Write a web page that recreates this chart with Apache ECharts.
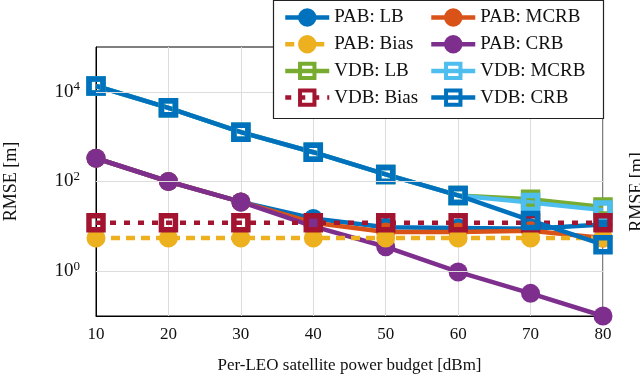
<!DOCTYPE html>
<html>
<head>
<meta charset="utf-8">
<script src="https://cdn.jsdelivr.net/npm/echarts@6/dist/echarts.min.js"></script>
<style>
  html, body { margin: 0; padding: 0; background: #fff; }
  #chart { width: 640px; height: 382px; }
</style>
</head>
<body>
<div id="chart"></div>
<script>
// x values: per-LEO satellite power budget [dBm]
const powerBudget = [10, 20, 30, 40, 50, 60, 70, 80];

// RMSE [m]
const pabLB = [330, 100, 35, 15, 9.5, 9.2, 8.8, 11];
const pabMCRB = [330, 100, 35, 12, 7.5, 7.5, 8, 5.5];
const pabBias = [5.5, 5.5, 5.5, 5.5, 5.5, 5.5, 5.5, 5.5];
const pabCRB = [330, 100, 35, 10, 3.5, 0.96, 0.32, 0.1];
const vdbLB = [13500, 4400, 1260, 450, 144, 49, 40, 27];
const vdbMCRB = [13500, 4400, 1260, 450, 144, 49, 34, 23];
const vdbBias = [12, 12, 12, 12, 12, 12, 12, 12];
const vdbCRB = [13500, 4400, 1260, 450, 144, 49, 13.5, 3.9];

// labelled decades of the y axis (these also get grid lines)
const yGridValues = [1, 100, 10000];

// legend columns, as in the reference
const legendLeftCol = ['PAB: LB', 'PAB: Bias', 'VDB: LB', 'VDB: Bias'];
const legendRightCol = ['PAB: MCRB', 'PAB: CRB', 'VDB: MCRB', 'VDB: CRB'];

const FONT = 'Liberation Serif';

function pairs(values) {
    return powerBudget.map(function (x, i) {
        return [x, values[i]];
    });
}

function circleSeries(name, values, color, dash) {
    return {
        name: name,
        type: 'line',
        data: pairs(values),
        symbol: 'circle',
        symbolSize: 19,
        itemStyle: { color: color, borderColor: color, borderWidth: 0 },
        lineStyle: { color: color, width: 4.5, type: dash || 'solid' },
        emphasis: { disabled: true },
        z: 3
    };
}

function squareSeries(name, values, color, dash) {
    return {
        name: name,
        type: 'line',
        data: pairs(values),
        symbol: 'rect',
        symbolSize: 14,
        itemStyle: { color: 'rgba(255,255,255,0)', borderColor: color, borderWidth: 5.5 },
        lineStyle: { color: color, width: 4.5, type: dash || 'solid' },
        emphasis: { disabled: true },
        z: 3
    };
}

function legendColumn(names, left) {
    return {
        data: names,
        orient: 'vertical',
        left: left, top: 8,
        padding: 0,
        itemWidth: 44, itemHeight: 18, itemGap: 7.7,
        z: 20,
        lineStyle: { width: 4.5 },
        itemStyle: { borderWidth: 4 },
        textStyle: { fontFamily: FONT, fontSize: 19, color: '#111' }
    };
}

const chart = echarts.init(document.getElementById('chart'), null, { renderer: 'canvas' });

const options = {
    animation: false,
    backgroundColor: '#fff',
    textStyle: { fontFamily: FONT },
    grid: {
        left: 96, right: 37, top: 47, bottom: 66,
        outerBoundsMode: 'none',
        containLabel: false,
        show: true, borderColor: '#000', borderWidth: 1
    },
    legend: [
        legendColumn(legendLeftCol, 283),
        legendColumn(legendRightCol, 429)
    ],
    xAxis: {
        type: 'value',
        min: 10, max: 80, interval: 10,
        name: 'Per-LEO satellite power budget [dBm]',
        nameLocation: 'middle', nameGap: 41,
        nameTextStyle: { fontFamily: FONT, fontSize: 17, color: '#111' },
        axisLine: { lineStyle: { color: '#000', width: 1 } },
        axisTick: { show: false },
        axisLabel: { fontFamily: FONT, fontSize: 17, color: '#111', margin: 10 },
        splitLine: { show: true, lineStyle: { color: '#dcdcdc', width: 1 } }
    },
    yAxis: {
        type: 'log', logBase: 10,
        min: 0.1, max: 100000, splitNumber: 6,
        name: 'RMSE [m]',
        nameLocation: 'middle', nameGap: 76,
        nameTextStyle: { fontFamily: FONT, fontSize: 18, color: '#111' },
        axisLine: { show: true, lineStyle: { color: '#000', width: 1 } },
        axisTick: { show: false },
        axisLabel: {
            margin: 16,
            formatter: function (value) {
                const e = Math.round(Math.log10(value));
                if (yGridValues.indexOf(Math.pow(10, e)) < 0) {
                    return '';
                }
                return '{b|10}{s|' + e + '}';
            },
            rich: {
                b: { fontFamily: FONT, fontSize: 19, color: '#111' },
                s: { fontFamily: FONT, fontSize: 13, color: '#111', padding: [0, 0, 10, 0] }
            }
        },
        splitLine: { show: false }
    },
    graphic: [{
        type: 'rect',
        z: 10,
        shape: { x: 273.5, y: 0.5, width: 330, height: 118 },
        style: { fill: '#fff', stroke: '#222', lineWidth: 1.2 }
    }, {
        type: 'text',
        x: 628, y: 192,
        rotation: Math.PI / 2,
        style: {
            text: 'RMSE [m]',
            font: '18px "Liberation Serif"',
            fill: '#111',
            textAlign: 'center',
            textVerticalAlign: 'top'
        }
    }],
    series: [
        {
            name: 'grid',
            type: 'line',
            data: pairs(pabBias),
            symbol: 'none',
            lineStyle: { opacity: 0 },
            silent: true,
            z: 1,
            markLine: {
                silent: true,
                symbol: 'none',
                label: { show: false },
                lineStyle: { color: '#dcdcdc', width: 1, type: 'solid' },
                data: yGridValues.map(function (v) { return { yAxis: v }; })
            }
        },
        circleSeries('PAB: LB', pabLB, '#0072BD'),
        circleSeries('PAB: MCRB', pabMCRB, '#D95319'),
        circleSeries('PAB: CRB', pabCRB, '#7E2F8E'),
        circleSeries('PAB: Bias', pabBias, '#EDB120', [9, 6]),
        squareSeries('VDB: LB', vdbLB, '#77AC30'),
        squareSeries('VDB: MCRB', vdbMCRB, '#4DBEEE'),
        squareSeries('VDB: Bias', vdbBias, '#A2142F', [6, 8]),
        squareSeries('VDB: CRB', vdbCRB, '#0072BD')
    ]
};

chart.setOption(options);
</script>
</body>
</html>
